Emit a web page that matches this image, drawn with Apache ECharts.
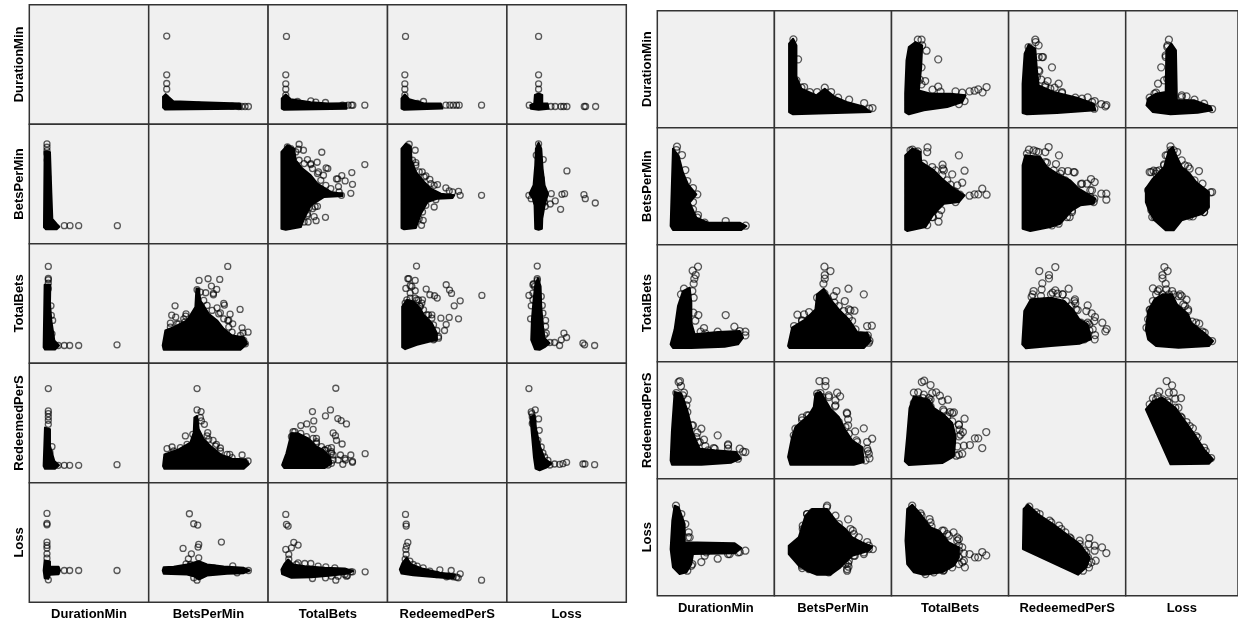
<!DOCTYPE html>
<html><head><meta charset="utf-8">
<style>html,body{margin:0;padding:0;background:#fff;overflow:hidden}#c{width:1238px;height:623px}</style>
<script src="https://cdn.jsdelivr.net/npm/echarts@6/dist/echarts.min.js"></script>
</head><body><div id="c"></div>
<script>
const variables = ['DurationMin','BetsPerMin','TotalBets','RedeemedPerS','Loss'];
const leftScaleMax = 358, rightScaleMax = 351;

// LEFT MATRIX: [column variable, row variable], read from the upper triangle. "Dense" = outline of the solid black cloud.
const leftDurBets = [[54,264],[54,148],[54,122],[54,105],[299,53],[289,53],[279,53],[270,53],[100,56],[150,57],[200,55],[250,54]];
const leftDurBetsDense = [[43,50],[43,82],[51,90],[59,82],[74,69],[154,66],[274,62],[276,46],[49,44]];
const leftDurTotal = [[55,263],[53,148],[53,121],[53,105],[53,87],[290,57],[254,57],[250,57],[240,57],[223,57],[172,65],[143,66],[128,70],[88,68]];
const leftDurTotalDense = [[41,47],[41,77],[53,89],[68,75],[128,66],[180,62],[235,63],[235,46],[48,43]];
const leftDurRedeemed = [[54,263],[52,148],[52,121],[52,105],[52,87],[282,57],[215,57],[207,57],[197,57],[187,57],[175,57],[108,68],[90,62]];
const leftDurRedeemedDense = [[42,47],[42,77],[52,89],[65,75],[110,62],[160,62],[165,47],[50,43]];
const leftDurLoss = [[95,263],[95,148],[95,121],[95,105],[67,57],[132,53],[145,53],[162,53],[170,53],[180,53],[232,53],[236,53],[266,53]];
const leftDurLossDense = [[72,46],[70,57],[82,62],[84,88],[95,92],[106,88],[106,62],[122,62],[125,46],[95,43]];
const leftBetsTotal = [[93,298],[91,283],[106,280],[161,274],[290,237],[251,213],[179,225],[174,227],[147,244],[118,252],[221,204],[205,194],[209,194],[231,188],[253,178],[211,171],[248,151],[220,145],[213,155],[148,112],[141,111],[172,79],[138,81],[144,69],[118,90],[120,65],[123,108],[166,205],[151,215],[128,237],[58,290],[68,285],[83,275],[93,250],[108,240],[128,240],[133,225],[148,210],[158,190],[173,175],[188,165],[133,105],[118,85],[108,65]];
const leftBetsTotalDense = [[40,45],[40,275],[58,295],[78,285],[83,250],[103,225],[128,205],[148,180],[188,155],[223,150],[223,143],[168,140],[128,115],[108,75],[98,50],[53,42]];
const leftBetsRedeemed = [[65,298],[83,280],[282,145],[218,145],[213,157],[175,167],[150,177],[127,193],[115,203],[104,215],[85,243],[145,132],[140,110],[115,115],[107,70],[102,55],[195,155],[185,158],[60,290],[75,250],[85,235],[95,215],[110,200],[130,180],[140,175],[105,95],[95,75]];
const leftBetsRedeemedDense = [[42,47],[42,285],[55,300],[70,290],[72,250],[85,215],[110,185],[130,165],[160,150],[200,145],[195,137],[150,135],[120,125],[100,90],[85,47],[50,43]];
const leftBetsLoss = [[95,299],[109,252],[180,218],[66,145],[133,150],[165,148],[173,150],[231,147],[235,135],[265,122],[145,128],[130,119],[161,103],[115,112],[88,265],[103,195],[113,125],[73,135]];
const leftBetsLossDense = [[85,45],[83,115],[78,135],[68,150],[80,175],[85,235],[87,285],[95,303],[103,285],[107,225],[113,175],[123,150],[113,115],[106,75],[105,45],[95,42]];
const leftTotalRedeemed = [[87,291],[61,253],[64,253],[83,248],[55,224],[83,217],[116,222],[127,205],[141,202],[149,195],[176,235],[186,219],[192,209],[283,203],[218,187],[200,172],[105,190],[160,135],[185,137],[213,133],[176,116],[171,98],[153,75],[140,73],[118,145],[133,145],[98,170],[88,190],[68,232],[53,180],[58,190],[68,210],[73,230],[68,195],[83,195],[93,190],[103,180],[108,160],[123,145],[133,135],[138,115],[148,98],[153,80],[138,70],[98,170],[118,120]];
const leftTotalRedeemedDense = [[44,48],[44,170],[58,190],[78,185],[98,165],[108,145],[133,120],[148,90],[148,70],[88,55],[53,42]];
const leftTotalLoss = [[91,291],[91,253],[91,248],[78,235],[66,203],[106,173],[73,172],[71,133],[116,128],[171,90],[179,77],[163,70],[158,53],[143,62],[129,62],[228,60],[233,55],[263,53],[113,85],[83,230],[78,210],[78,190],[103,200],[108,150],[116,110],[118,90],[80,238]];
const leftTotalLossDense = [[84,42],[73,70],[75,130],[80,190],[85,235],[93,255],[101,230],[103,170],[108,110],[113,75],[128,60],[113,48],[98,40]];
const leftRedeemedLoss = [[66,282],[85,218],[73,212],[95,191],[76,197],[76,177],[97,157],[108,89],[129,53],[143,56],[158,55],[168,57],[179,61],[228,56],[234,56],[263,54],[78,182],[75,207],[83,147],[93,127],[103,107],[113,77],[123,67]];
const leftRedeemedLossDense = [[86,42],[81,77],[74,157],[71,197],[83,202],[88,157],[100,107],[113,72],[133,57],[118,45],[98,37]];

// RIGHT MATRIX
const rightDurBets = [[57,265],[71,205],[89,122],[106,107],[128,107],[151,120],[170,107],[191,90],[224,84],[269,74],[294,59],[284,57],[66,142],[81,120]];
const rightDurBetsDense = [[44,47],[44,252],[56,267],[66,247],[66,152],[81,117],[126,97],[151,117],[181,92],[216,77],[266,64],[288,47],[56,40]];
const rightDurTotal = [[79,264],[90,264],[92,247],[105,231],[140,205],[90,181],[85,144],[101,140],[90,130],[123,114],[140,123],[147,108],[192,109],[234,109],[249,111],[260,115],[273,106],[285,122],[219,80],[202,71],[212,105]];
const rightDurTotalDense = [[41,47],[41,102],[45,202],[52,242],[72,257],[92,247],[89,182],[82,112],[117,102],[177,102],[222,97],[212,77],[167,62],[97,52],[52,40]];
const rightDurRedeemed = [[80,264],[81,257],[90,247],[103,212],[92,169],[130,181],[98,144],[117,140],[150,132],[138,120],[160,104],[237,91],[258,80],[278,71],[293,68],[290,64],[257,57],[110,122],[60,242],[90,212],[100,212],[90,172],[85,152],[110,127],[125,117],[160,107],[200,90],[220,87],[250,77]];
const rightDurRedeemedDense = [[42,44],[42,132],[48,222],[60,249],[80,237],[85,172],[90,127],[135,107],[205,90],[255,72],[260,52],[145,44],[55,40]];
const rightDurLoss = [[135,264],[131,247],[125,212],[111,181],[120,142],[101,132],[130,147],[95,105],[175,97],[190,94],[270,56],[125,217],[130,242],[90,102],[75,90],[175,92],[215,84],[245,72]];
const rightDurLossDense = [[65,67],[70,87],[95,102],[125,107],[127,232],[143,252],[157,232],[160,82],[215,82],[265,64],[270,52],[225,45],[140,40],[85,47]];
const rightBetsTotal = [[108,292],[107,278],[63,285],[79,280],[202,268],[153,240],[154,228],[182,211],[219,222],[212,186],[272,168],[285,150],[260,151],[249,151],[234,147],[192,128],[149,104],[142,89],[141,69],[107,59],[124,83],[177,180],[197,178],[57,283],[72,278],[97,243],[122,233],[132,223],[157,223],[152,208],[167,193],[122,83],[127,103],[152,143],[190,160],[205,150],[170,150]];
const rightBetsTotalDense = [[41,45],[41,268],[62,288],[87,278],[89,248],[127,223],[157,193],[187,168],[219,148],[202,128],[157,123],[127,93],[102,53],[47,41]];
const rightBetsRedeemed = [[120,293],[61,285],[83,280],[110,278],[151,268],[142,242],[115,246],[160,221],[178,221],[198,217],[247,197],[258,188],[235,183],[217,182],[250,163],[278,153],[293,153],[293,135],[257,138],[190,103],[183,83],[130,58],[55,273],[75,283],[90,278],[110,248],[135,223],[155,213],[195,218],[170,193],[220,183],[245,163],[245,143],[255,128],[190,98],[175,83],[150,63]];
const rightBetsRedeemedDense = [[42,48],[42,238],[50,268],[95,263],[115,233],[145,213],[185,193],[210,168],[235,153],[260,138],[255,123],[215,118],[190,103],[155,63],[125,53],[65,41]];
const rightBetsLoss = [[140,295],[161,278],[75,218],[87,222],[97,221],[125,268],[120,241],[229,221],[195,235],[265,157],[245,98],[210,85],[80,103],[83,83],[80,218],[95,213],[105,223],[120,238],[130,268],[140,283],[150,283],[175,253],[185,238],[200,228],[215,193],[240,183],[270,158],[250,113],[245,98],[200,85],[90,83],[80,113],[70,163]];
const rightBetsLossDense = [[63,128],[63,168],[85,198],[120,233],[135,283],[147,293],[160,263],[175,233],[200,213],[220,188],[260,158],[260,113],[240,93],[175,73],[150,43],[125,43],[90,73],[75,98]];
const rightTotalRedeemed = [[140,284],[92,272],[121,260],[121,250],[101,235],[99,217],[75,212],[140,214],[180,219],[162,202],[199,187],[200,175],[237,169],[233,152],[249,145],[259,134],[257,122],[281,117],[294,98],[290,91],[259,80],[258,67],[237,117],[207,155],[72,202],[69,194],[97,197],[127,202],[132,207],[147,204],[162,202],[172,182],[187,167],[202,157],[197,182],[217,117],[232,112],[242,112],[222,102],[242,94],[237,82],[227,67],[252,97]];
const rightTotalRedeemedDense = [[41,52],[47,152],[67,187],[127,192],[167,182],[192,157],[212,127],[237,112],[247,67],[212,54],[127,47],[52,40]];
const rightTotalLoss = [[121,284],[131,272],[115,260],[115,250],[125,234],[85,220],[105,217],[127,217],[145,212],[170,202],[175,197],[190,186],[185,167],[195,152],[75,155],[230,114],[208,120],[270,62],[247,87],[95,202],[100,212],[115,202],[135,202],[150,202],[165,197],[180,172],[195,157],[220,117],[240,90],[85,182],[77,157],[70,127],[65,102]];
const rightTotalLossDense = [[63,97],[70,152],[90,187],[115,202],[145,202],[160,172],[195,142],[205,117],[245,87],[273,62],[260,47],[165,42],[95,47],[70,67]];
const rightRedeemedLoss = [[128,293],[145,280],[105,261],[135,258],[150,258],[85,241],[100,248],[155,240],[173,242],[130,233],[165,213],[172,186],[190,170],[210,151],[225,123],[250,83],[267,62],[75,223],[95,238],[115,238],[135,228],[155,213],[175,183],[200,158],[220,128],[245,93]];
const rightRedeemedLossDense = [[63,208],[85,233],[115,243],[155,213],[185,173],[215,133],[245,88],[273,58],[260,45],[140,43]];

const leftPairs = {
  '0-1':[leftDurBets,leftDurBetsDense],'0-2':[leftDurTotal,leftDurTotalDense],'0-3':[leftDurRedeemed,leftDurRedeemedDense],'0-4':[leftDurLoss,leftDurLossDense],
  '1-2':[leftBetsTotal,leftBetsTotalDense],'1-3':[leftBetsRedeemed,leftBetsRedeemedDense],'1-4':[leftBetsLoss,leftBetsLossDense],
  '2-3':[leftTotalRedeemed,leftTotalRedeemedDense],'2-4':[leftTotalLoss,leftTotalLossDense],'3-4':[leftRedeemedLoss,leftRedeemedLossDense]};
const rightPairs = {
  '0-1':[rightDurBets,rightDurBetsDense],'0-2':[rightDurTotal,rightDurTotalDense],'0-3':[rightDurRedeemed,rightDurRedeemedDense],'0-4':[rightDurLoss,rightDurLossDense],
  '1-2':[rightBetsTotal,rightBetsTotalDense],'1-3':[rightBetsRedeemed,rightBetsRedeemedDense],'1-4':[rightBetsLoss,rightBetsLossDense],
  '2-3':[rightTotalRedeemed,rightTotalRedeemedDense],'2-4':[rightTotalLoss,rightTotalLossDense],'3-4':[rightRedeemedLoss,rightRedeemedLossDense]};

const grid=[],xAxis=[],yAxis=[],series=[];
const swap = a => a.map(p=>[p[1],p[0]]);
const font = {fontFamily:'"Liberation Sans",Arial,sans-serif',fontWeight:'bold',fontSize:13,color:'#000'};

function addMatrix(pairs, left, top, stepX, stepY, scaleMax, markerSize){
  for(let r=0;r<5;r++) for(let c=0;c<5;c++){
    const g = grid.length;
    grid.push({left:left+c*stepX, top:top+r*stepY, width:stepX, height:stepY, show:true,
      backgroundColor:'#F0F0F0', borderColor:'#333', borderWidth:1.5, containLabel:false});
    const hidden = {axisLine:{show:false},axisTick:{show:false},axisLabel:{show:false},splitLine:{show:false}};
    xAxis.push({gridIndex:g,type:'value',min:0,max:scaleMax,...hidden,
      name:r===4?variables[c]:'',nameLocation:'middle',nameGap:6,nameTextStyle:font});
    yAxis.push({gridIndex:g,type:'value',min:0,max:scaleMax,...hidden,
      name:c===0?variables[r]:'',nameLocation:'middle',nameGap:3,nameTextStyle:font});
    if(r===c) continue;
    const p = r<c ? pairs[r+'-'+c] : pairs[c+'-'+r];
    const points = r<c ? p[0] : swap(p[0]);
    const dense = r<c ? p[1] : swap(p[1]);
    series.push({type:'custom',xAxisIndex:g,yAxisIndex:g,silent:true,clip:false,data:dense,
      renderItem:(params,api)=>{
        if(params.dataIndex!==0) return null;
        return {type:'polygon',shape:{points:dense.map(d=>api.coord(d))},
          style:{fill:'#000',stroke:'#000',lineWidth:2,lineJoin:'round'}};
      }});
    series.push({type:'scatter',xAxisIndex:g,yAxisIndex:g,silent:true,data:points,symbol:'circle',symbolSize:markerSize,
      itemStyle:{color:'rgba(0,0,0,0)',borderColor:'rgba(0,0,0,0.8)',borderWidth:1.3}});
  }
}
addMatrix(leftPairs,29.3,4.7,119.4,119.5,leftScaleMax,6);
addMatrix(rightPairs,657.3,10.7,117.1,117,rightScaleMax,7);

const chart = echarts.init(document.getElementById('c'),null,{renderer:'canvas'});
chart.setOption({animation:false,backgroundColor:'#fff',tooltip:{show:false},grid,xAxis,yAxis,series});
</script></body></html>
